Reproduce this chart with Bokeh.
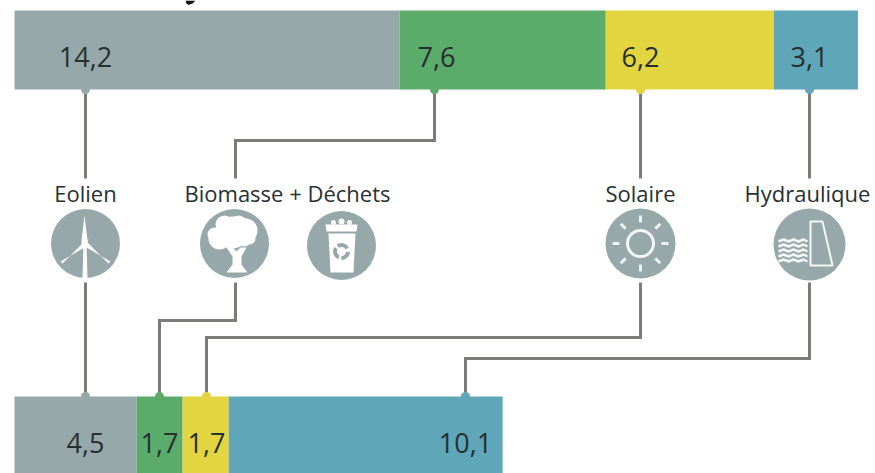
import math
import numpy as np
from bokeh.core.properties import value
from bokeh.embed import file_html
from bokeh.models import Range1d
from bokeh.plotting import figure
from bokeh.resources import INLINE

# Energy sources, in the stacking order of both bars
sources = ["Eolien", "Biomasse", "Solaire", "Hydraulique"]
upper_values = [14.2, 7.6, 6.2, 3.1]
lower_values = [4.5, 1.7, 1.7, 10.1]
upper_labels = ["14,2", "7,6", "6,2", "3,1"]
lower_labels = ["4,5", "1,7", "1,7", "10,1"]
colors = ["#97A8AB", "#5BAB6B", "#E3D540", "#5FA6B8"]
source_titles = ["Eolien", "Biomasse + Déchets", "Solaire", "Hydraulique"]

W, H = 875, 473
UNIT_PX = 27.12
LEFT_PX = 14
ICON = "#97A8AB"
WIRE = "#7C7C79"
INK = "#263032"
FONT = value("Open Sans")


def ux(px):
    """Horizontal page position expressed in bar units."""
    return (np.asarray(px, dtype=float) - LEFT_PX) / UNIT_PX


p = figure(
    width=W, height=H, output_backend="svg", toolbar_location=None,
    x_range=Range1d(ux(0), ux(W)), y_range=Range1d(H, 0),
    min_border=0, outline_line_color=None, background_fill_color="white",
    x_axis_location=None, y_axis_location=None,
)
p.grid.visible = False

# Dark sliver along the top edge
p.patch(ux([185, 195, 192, 188, 186]), [0, 0, 3, 4.5, 3], fill_color="#111111", line_color=None)


# Stacked bars
def stacked(values, top, bottom):
    ends = np.cumsum(values)
    starts = ends - np.array(values)
    p.quad(left=starts, right=ends, top=top, bottom=bottom, fill_color=colors, line_color=None)


stacked(upper_values, 10, 89)
stacked(lower_values, 396, 473)

# Connectors between bars and icons: one polyline per source and side
wires_upper = [
    ([85, 85], [89, 178]),
    ([434, 434, 235, 235], [89, 140, 140, 178]),
    ([640, 640], [89, 178]),
    ([809, 809], [89, 178]),
]
wires_lower = [
    ([85, 85], [282, 396]),
    ([235, 235, 159, 159], [282, 320, 320, 396]),
    ([640, 640, 206, 206], [282, 337, 337, 396]),
    ([809, 809, 465, 465], [282, 358, 358, 396]),
]
for xs, ys in wires_upper + wires_lower:
    p.line(ux(xs), ys, line_color=WIRE, line_width=3, line_join="miter")

# Small nubs where the connectors meet the bars
p.scatter(ux([85, 434, 640, 809]), [89] * 4, size=9, fill_color=colors, line_color=None)
p.scatter(ux([85, 159, 206, 465]), [396] * 4, size=9, fill_color=colors, line_color=None)


# Value labels
def labels(xs, y, texts):
    p.text(ux(xs), [y] * len(xs), text=texts, text_font=FONT, text_font_size="27px",
           text_color=INK, text_align="center", text_baseline="middle")


labels([85, 436, 640, 809], 56, upper_labels)
labels([85, 159, 206, 465], 442, lower_labels)

# Source names above the icons
p.text(ux([85, 287, 640, 807]), [192] * 4, text=source_titles, text_font=FONT,
       text_font_size="22px", text_color=INK, text_align="center", text_baseline="middle")

# Round icon backgrounds
icon_x = [85, 234, 341, 640, 809]
icon_y = [243, 243, 245, 243, 244]
icon_size = [69, 69, 69, 70, 72]
p.scatter(ux(icon_x), icon_y, size=icon_size, fill_color=ICON, line_color=None)


def white_patch(xs, ys, fill="white"):
    p.patch(ux(xs), ys, fill_color=fill, line_color=None)


# Wind turbine
white_patch([81, 84, 87, 87, 81], [240, 215, 240, 246, 246])
white_patch([82, 86, 110, 108, 85], [239, 247, 261, 263, 240])
white_patch([88, 84, 60, 62, 85], [239, 247, 261, 263, 240])
white_patch([83, 86, 87, 82], [243, 243, 278, 278])

# Tree: crown made of overlapping blobs, then the trunk
crown_x = [232, 219, 245, 224, 238, 214, 249, 230, 244]
crown_y = [232, 238, 230, 224, 224, 234, 238, 240, 240]
crown_s = [32, 22, 24, 18, 18, 14, 12, 16, 12]
p.scatter(ux(crown_x), crown_y, size=crown_s, fill_color="white", line_color=None)
white_patch([226, 232, 236, 240, 246, 241, 241, 247, 226, 232, 232],
            [247, 247, 251, 247, 247, 256, 264, 272, 272, 264, 256])

# Waste bin with a recycling mark
white_patch([325, 357, 356, 326], [224, 224, 231, 231])
white_patch([328, 355, 353, 330], [233, 233, 272, 272])
p.scatter(ux([333, 341, 349]), [222, 221, 222], size=[5, 6, 5], fill_color="white", line_color=None)
p.annular_wedge(ux([341, 341, 341]), [251] * 3, inner_radius=4.5, outer_radius=8.5,
                inner_radius_units="screen", outer_radius_units="screen",
                start_angle=[0.5, 2.6, 4.7], end_angle=[2.2, 4.3, 6.2], fill_color=ICON, line_color=None)

# Sun
p.scatter(ux([640]), [243], size=26, fill_color=ICON, line_color="#F4F6F6", line_width=3)
for k in range(8):
    a = k * math.pi / 4
    p.line(ux([640 + 21 * math.cos(a), 640 + 28 * math.cos(a)]),
           [243 + 21 * math.sin(a), 243 + 28 * math.sin(a)],
           line_color="#EEF1F1", line_width=3)

# Dam and water
p.patch(ux([810, 822, 832, 810]), [221, 221, 265, 265], fill_color=ICON, line_color="#F4F6F6", line_width=2)
wave_dx = [0, 5, 10, 15, 20, 25, 29]
wave_dy = [0, -2, 0, -2, 0, -2, 0]
for base in [241, 246, 251, 256, 261]:
    p.line(ux([778 + d for d in wave_dx]), [base + d for d in wave_dy], line_color="#F4F6F6", line_width=2.5)

open("out.html", "w").write(file_html(p, INLINE))
